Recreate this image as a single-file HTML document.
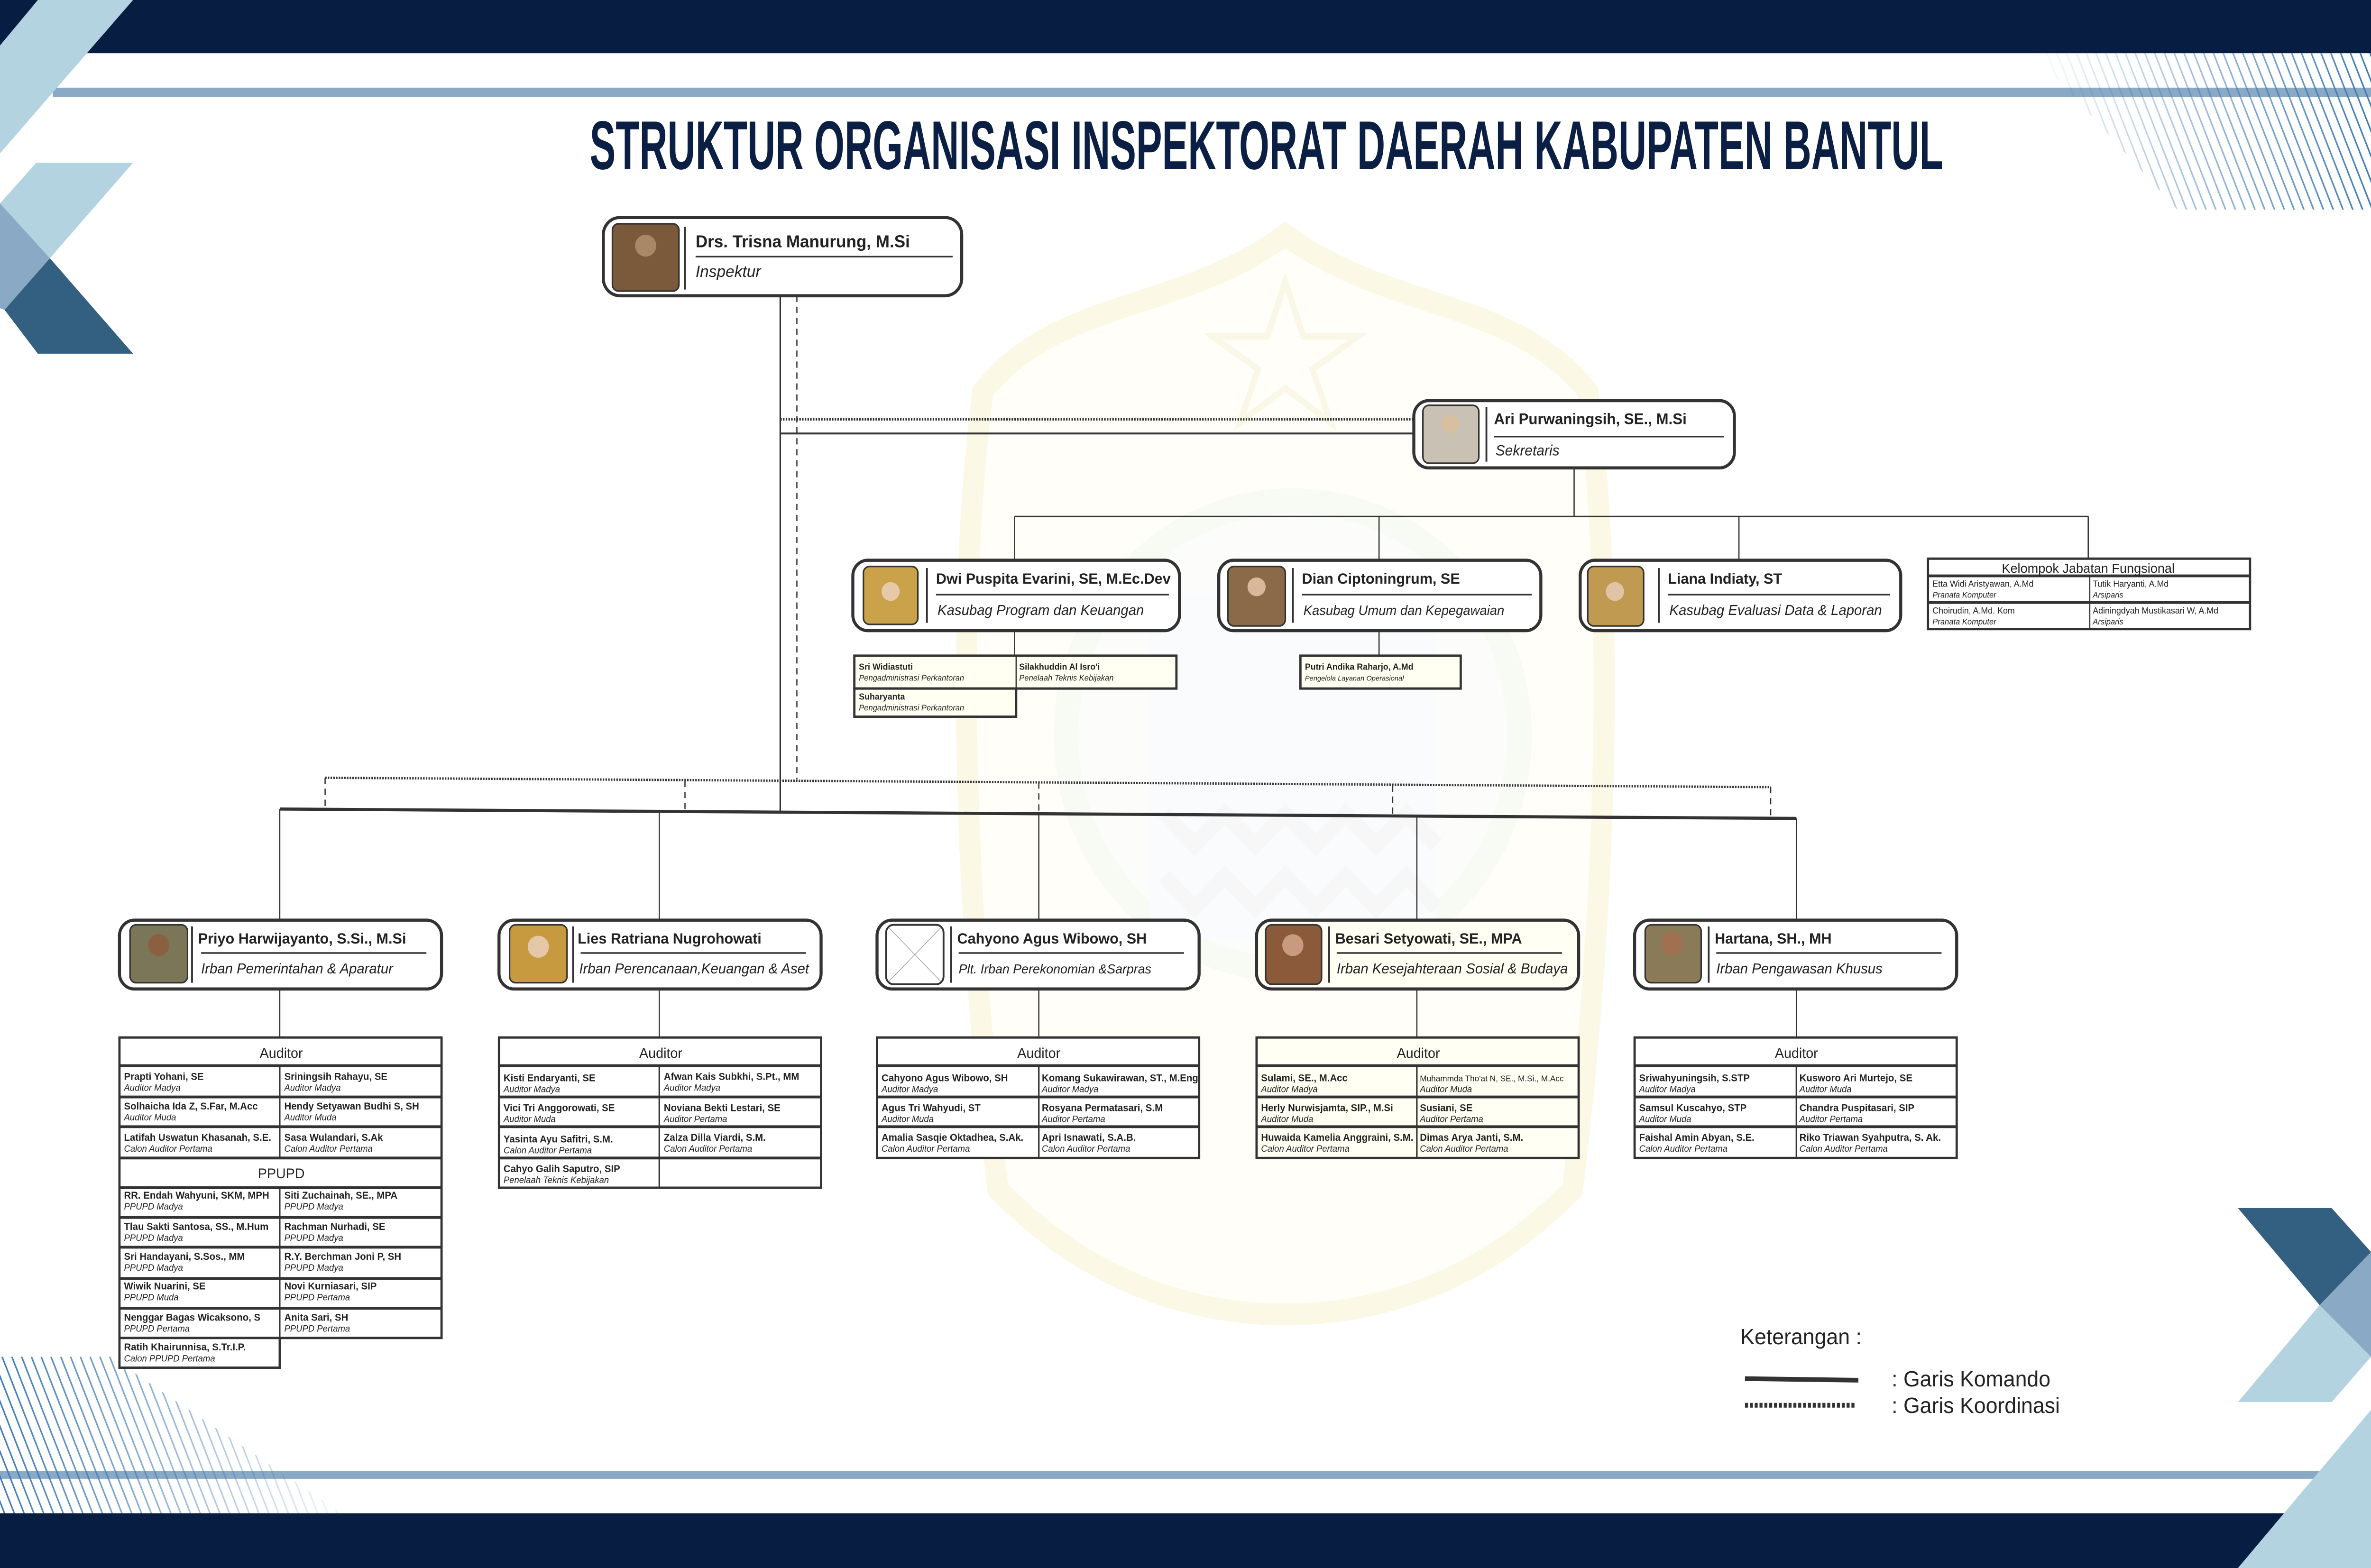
<!DOCTYPE html>
<html><head><meta charset="utf-8"><style>
html,body{margin:0;padding:0;background:#fff;overflow:hidden;width:100%;height:100%;}
svg{display:block;position:fixed;left:0;top:0;width:100vw;height:100vh;}
text{font-family:"Liberation Sans Narrow","Liberation Sans",sans-serif;fill:#222;}
.n{font-weight:bold;font-size:6.4px;}
.r{font-style:italic;font-size:5.8px;}
.h{font-size:9px;text-anchor:middle;}
.bn{font-weight:bold;font-size:9.6px;}
.bt{font-style:italic;font-size:9.2px;}
</style></head><body>
<svg viewBox="0 0 1568 1002" preserveAspectRatio="none" xmlns="http://www.w3.org/2000/svg">
<defs>
<pattern id="hp" patternUnits="userSpaceOnUse" width="6" height="10" patternTransform="rotate(-22)">
<rect x="0" y="0" width="1" height="10" fill="#3d7ab8"/></pattern>
<linearGradient id="fadeR" x1="0" x2="1" y1="0" y2="0"><stop offset="0" stop-color="#fff" stop-opacity="1"/><stop offset="1" stop-color="#fff" stop-opacity="0"/></linearGradient>
<linearGradient id="fadeL" x1="0" x2="1" y1="0" y2="0"><stop offset="0" stop-color="#fff" stop-opacity="0"/><stop offset="1" stop-color="#fff" stop-opacity="1"/></linearGradient>
<mask id="mR"><rect x="0" y="860" width="240" height="110" fill="url(#fadeR)"/></mask>
<mask id="mL"><rect x="1345" y="34" width="223" height="100" fill="url(#fadeL)"/></mask>
</defs>

<!-- watermark crest -->
<g opacity="0.4">
<path d="M850 150 C780 200 700 190 650 250 C630 400 640 600 660 760 C720 820 790 840 850 840 C910 840 980 820 1040 760 C1060 600 1070 400 1050 250 C1000 190 920 200 850 150Z" fill="#fefdf0" stroke="#f6f0c0" stroke-width="14"/>
<circle cx="855" cy="470" r="150" fill="#f7f9f5" stroke="#eef3e4" stroke-width="16"/>
<rect x="760" y="380" width="190" height="220" fill="#f2f5f8"/>
<path d="M770 520 l20 20 l20 -20 l20 20 l20 -20 l20 20 l20 -20 l20 20 l20 -20 l20 20" fill="none" stroke="#eaeaea" stroke-width="10"/>
<path d="M770 560 l20 20 l20 -20 l20 20 l20 -20 l20 20 l20 -20 l20 20 l20 -20 l20 20" fill="none" stroke="#eaeaea" stroke-width="10"/>
<polygon points="850,180 862,215 898,215 868,236 880,270 850,248 820,270 832,236 802,215 838,215" fill="none" stroke="#f3ecc0" stroke-width="4"/>
</g>

<!-- top decor -->
<rect x="0" y="0" width="1568" height="34" fill="#071e42"/>
<rect x="35" y="56" width="1533" height="6" fill="#8aa9c4"/>
<polygon points="25,0 88,0 0,98 0,29" fill="#b2d3df"/>
<polygon points="0,0 25,0 0,29" fill="#071e42"/>
<polygon points="24,104 88,104 33,165 0,130" fill="#b2d3df"/>
<polygon points="0,130 33,165 3,198 0,197" fill="#8aa9c4"/>
<polygon points="33,165 88,226 25,226 3,198" fill="#335f80"/>
<g mask="url(#mL)"><polygon points="1345,34 1568,34 1568,134 1440,134" fill="url(#hp)"/></g>

<!-- bottom decor -->
<rect x="0" y="940" width="1568" height="5" fill="#8aa9c4"/>
<rect x="0" y="967" width="1568" height="35" fill="#071e42"/>
<g mask="url(#mR)"><polygon points="0,867 73,867 226,967 0,967" fill="url(#hp)"/></g>
<polygon points="1480,772 1542,772 1568,800 1568,867 1534,834" fill="#335f80"/>
<polygon points="1534,834 1568,800 1568,867" fill="#8aa9c4"/>
<polygon points="1534,834 1568,867 1542,896 1480,896" fill="#b2d3df"/>
<polygon points="1568,901 1568,1002 1480,1002" fill="#b2d3df"/>

<!-- title -->
<text x="390" y="108" font-size="44" font-weight="bold" textLength="895" lengthAdjust="spacingAndGlyphs" style="fill:#0b1f44">STRUKTUR ORGANISASI INSPEKTORAT DAERAH KABUPATEN BANTUL</text>

<!-- connectors -->
<g stroke="#333" fill="none">
<line x1="516" y1="189" x2="516" y2="519" stroke-width="1"/>
<line x1="527" y1="189" x2="527" y2="498" stroke-width="0.8" stroke-dasharray="4,3"/>
<line x1="516" y1="268" x2="935" y2="268" stroke-width="1.5" stroke-dasharray="1,0.8"/>
<line x1="516" y1="277" x2="935" y2="277" stroke-width="1.2"/>
<line x1="1041" y1="299" x2="1041" y2="330" stroke-width="0.8"/>
<line x1="671" y1="330" x2="1381" y2="330" stroke-width="0.8"/>
<line x1="671" y1="330" x2="671" y2="358" stroke-width="0.8"/>
<line x1="912" y1="330" x2="912" y2="358" stroke-width="0.8"/>
<line x1="1150" y1="330" x2="1150" y2="358" stroke-width="0.8"/>
<line x1="1381" y1="330" x2="1381" y2="357" stroke-width="0.8"/>
<line x1="671" y1="403" x2="671" y2="419" stroke-width="0.8"/>
<line x1="912" y1="403" x2="912" y2="419" stroke-width="0.8"/>
<line x1="215" y1="497" x2="1171" y2="503" stroke-width="1.5" stroke-dasharray="1,0.8"/>
<g stroke-width="0.8" stroke-dasharray="4,3">
<line x1="215" y1="497" x2="215" y2="517"/><line x1="453" y1="499" x2="453" y2="519"/>
<line x1="687" y1="500" x2="687" y2="520"/><line x1="921" y1="502" x2="921" y2="522"/>
<line x1="1171" y1="503" x2="1171" y2="523"/></g>
<line x1="185" y1="517" x2="1188" y2="523" stroke-width="2"/>
<g stroke-width="0.8">
<line x1="185" y1="517" x2="185" y2="588"/><line x1="436" y1="519" x2="436" y2="588"/>
<line x1="687" y1="520" x2="687" y2="588"/><line x1="937" y1="522" x2="937" y2="588"/>
<line x1="1188" y1="523" x2="1188" y2="588"/>
<line x1="185" y1="632" x2="185" y2="663"/><line x1="436" y1="632" x2="436" y2="663"/>
<line x1="687" y1="632" x2="687" y2="663"/><line x1="937" y1="632" x2="937" y2="663"/>
<line x1="1188" y1="632" x2="1188" y2="663"/></g>
</g>

<!-- Inspektur -->
<rect x="399" y="139" width="237" height="50" rx="11" fill="#fff" stroke="#333" stroke-width="2"/>
<rect x="405" y="143" width="44" height="43" rx="4" fill="#7a5a3a" stroke="#333" stroke-width="1"/>
<circle cx="427" cy="157" r="7" fill="#a98868"/>
<line x1="453" y1="145" x2="453" y2="185" stroke="#333" stroke-width="1.2"/>
<text x="460" y="158" style="font-weight:bold;font-size:11px">Drs. Trisna Manurung, M.Si</text>
<line x1="460" y1="164" x2="630" y2="164" stroke="#333" stroke-width="1"/>
<text x="460" y="177" style="font-style:italic;font-size:10.5px">Inspektur</text>

<!-- Sekretaris -->
<rect x="935" y="256" width="212" height="43" rx="10" fill="#fff" stroke="#333" stroke-width="2"/>
<rect x="941" y="259" width="37" height="37" rx="4" fill="#c9c2b4" stroke="#333" stroke-width="1"/>
<circle cx="959" cy="271" r="6" fill="#d6c0a0"/>
<line x1="983" y1="260" x2="983" y2="295" stroke="#333" stroke-width="1.2"/>
<text x="988" y="271" style="font-weight:bold;font-size:9.8px">Ari Purwaningsih, SE., M.Si</text>
<line x1="988" y1="279" x2="1140" y2="279" stroke="#333" stroke-width="1"/>
<text x="989" y="291" style="font-style:italic;font-size:9.4px">Sekretaris</text>

<!-- Kasubag -->
<g>
<rect x="564" y="358" width="216" height="45" rx="10" fill="#fff" stroke="#333" stroke-width="2"/>
<rect x="571" y="362" width="36" height="37" rx="4" fill="#c9a24a" stroke="#333" stroke-width="1"/>
<circle cx="589" cy="378" r="6" fill="#e6c9a8"/>
<line x1="613" y1="363" x2="613" y2="398" stroke="#333" stroke-width="1.2"/>
<text x="619" y="373" class="bn">Dwi Puspita Evarini, SE, M.Ec.Dev</text>
<line x1="619" y1="380" x2="773" y2="380" stroke="#333" stroke-width="1"/>
<text x="620" y="393" class="bt">Kasubag Program dan Keuangan</text>

<rect x="806" y="358" width="213" height="45" rx="10" fill="#fff" stroke="#333" stroke-width="2"/>
<rect x="812" y="362" width="38" height="38" rx="4" fill="#8a6a48" stroke="#333" stroke-width="1"/>
<circle cx="831" cy="375" r="6" fill="#d8b89a"/>
<line x1="855" y1="363" x2="855" y2="398" stroke="#333" stroke-width="1.2"/>
<text x="861" y="373" class="bn">Dian Ciptoningrum, SE</text>
<line x1="861" y1="380" x2="1013" y2="380" stroke="#333" stroke-width="1"/>
<text x="862" y="393" class="bt" style="font-size:8.6px">Kasubag Umum dan Kepegawaian</text>

<rect x="1045" y="358" width="212" height="45" rx="10" fill="#fff" stroke="#333" stroke-width="2"/>
<rect x="1050" y="362" width="37" height="38" rx="4" fill="#c19a52" stroke="#333" stroke-width="1"/>
<circle cx="1068" cy="378" r="6" fill="#e0c4a6"/>
<line x1="1097" y1="363" x2="1097" y2="398" stroke="#333" stroke-width="1.2"/>
<text x="1103" y="373" class="bn">Liana Indiaty, ST</text>
<line x1="1103" y1="380" x2="1250" y2="380" stroke="#333" stroke-width="1"/>
<text x="1104" y="393" class="bt">Kasubag Evaluasi Data &amp; Laporan</text>
</g>

<!-- Kelompok Jabatan Fungsional -->
<g>
<rect x="1275" y="357" width="213" height="45" fill="#fff" stroke="#333" stroke-width="1.5"/>
<line x1="1275" y1="368" x2="1488" y2="368" stroke="#333" stroke-width="1.8"/>
<line x1="1275" y1="385" x2="1488" y2="385" stroke="#333" stroke-width="1.8"/>
<line x1="1382" y1="368" x2="1382" y2="402" stroke="#333" stroke-width="0.8"/>
<text x="1381" y="366" style="font-size:8.5px;text-anchor:middle">Kelompok Jabatan Fungsional</text>
<text x="1278" y="375" style="font-size:5.6px">Etta Widi Aristyawan, A.Md</text>
<text x="1278" y="382" style="font-size:5.2px;font-style:italic">Pranata Komputer</text>
<text x="1384" y="375" style="font-size:5.6px">Tutik Haryanti, A.Md</text>
<text x="1384" y="382" style="font-size:5.2px;font-style:italic">Arsiparis</text>
<text x="1278" y="392" style="font-size:5.6px">Choirudin, A.Md. Kom</text>
<text x="1278" y="399" style="font-size:5.2px;font-style:italic">Pranata Komputer</text>
<text x="1384" y="392" style="font-size:5.6px">Adiningdyah Mustikasari W, A.Md</text>
<text x="1384" y="399" style="font-size:5.2px;font-style:italic">Arsiparis</text>
</g>

<!-- sub staff tables -->
<g>
<rect x="565" y="419" width="213" height="21" fill="#fffff2" stroke="#333" stroke-width="1.5"/>
<rect x="565" y="440" width="107" height="18" fill="#fffff2" stroke="#333" stroke-width="1.5"/>
<line x1="672" y1="419" x2="672" y2="440" stroke="#333" stroke-width="0.8"/>
<text x="568" y="428" style="font-size:5.6px;font-weight:bold">Sri Widiastuti</text>
<text x="568" y="435" style="font-size:5.2px;font-style:italic">Pengadministrasi Perkantoran</text>
<text x="674" y="428" style="font-size:5.6px;font-weight:bold">Silakhuddin Al Isro'i</text>
<text x="674" y="435" style="font-size:5.2px;font-style:italic">Penelaah Teknis Kebijakan</text>
<text x="568" y="447" style="font-size:5.6px;font-weight:bold">Suharyanta</text>
<text x="568" y="454" style="font-size:5.2px;font-style:italic">Pengadministrasi Perkantoran</text>
<rect x="860" y="419" width="106" height="21" fill="#fffff2" stroke="#333" stroke-width="1.5"/>
<text x="863" y="428" style="font-size:5.6px;font-weight:bold">Putri Andika Raharjo, A.Md</text>
<text x="863" y="435" style="font-size:4.6px;font-style:italic">Pengelola Layanan Operasional</text>
</g>

<!-- Irban boxes -->
<g>
<rect x="79" y="588" width="213" height="44" rx="10" fill="#fff" stroke="#333" stroke-width="2"/>
<rect x="86" y="591" width="38" height="37" rx="4" fill="#7c7658" stroke="#333" stroke-width="1"/>
<circle cx="105" cy="604" r="7" fill="#8a6040"/>
<line x1="127" y1="592" x2="127" y2="628" stroke="#333" stroke-width="1.2"/>
<text x="131" y="603" class="bn">Priyo Harwijayanto, S.Si., M.Si</text>
<line x1="133" y1="609" x2="282" y2="609" stroke="#333" stroke-width="1"/>
<text x="133" y="622" class="bt">Irban Pemerintahan &amp; Aparatur</text>

<rect x="330" y="588" width="213" height="44" rx="10" fill="#fff" stroke="#333" stroke-width="2"/>
<rect x="337" y="591" width="38" height="37" rx="4" fill="#c79a40" stroke="#333" stroke-width="1"/>
<circle cx="356" cy="605" r="7" fill="#e4c8a8"/>
<line x1="379" y1="592" x2="379" y2="628" stroke="#333" stroke-width="1.2"/>
<text x="382" y="603" class="bn">Lies Ratriana Nugrohowati</text>
<line x1="384" y1="609" x2="533" y2="609" stroke="#333" stroke-width="1"/>
<text x="383" y="622" class="bt">Irban Perencanaan,Keuangan &amp; Aset</text>

<rect x="580" y="588" width="213" height="44" rx="10" fill="#fff" stroke="#333" stroke-width="2"/>
<rect x="586" y="591" width="38" height="38" rx="5" fill="#fff" stroke="#333" stroke-width="1.2"/>
<line x1="588" y1="593" x2="622" y2="627" stroke="#999" stroke-width="0.4"/>
<line x1="622" y1="593" x2="588" y2="627" stroke="#999" stroke-width="0.4"/>
<line x1="629" y1="592" x2="629" y2="628" stroke="#333" stroke-width="1.2"/>
<text x="633" y="603" class="bn">Cahyono Agus Wibowo, SH</text>
<line x1="634" y1="609" x2="783" y2="609" stroke="#333" stroke-width="1"/>
<text x="634" y="622" class="bt" style="font-size:8.4px">Plt. Irban Perekonomian &amp;Sarpras</text>

<rect x="831" y="588" width="213" height="44" rx="10" fill="#fffff4" stroke="#333" stroke-width="2"/>
<rect x="837" y="591" width="37" height="38" rx="4" fill="#8a5a3a" stroke="#333" stroke-width="1"/>
<circle cx="855" cy="604" r="7" fill="#c89a80"/>
<line x1="879" y1="592" x2="879" y2="628" stroke="#333" stroke-width="1.2"/>
<text x="883" y="603" class="bn">Besari Setyowati, SE., MPA</text>
<line x1="884" y1="609" x2="1033" y2="609" stroke="#333" stroke-width="1"/>
<text x="884" y="622" class="bt">Irban Kesejahteraan Sosial &amp; Budaya</text>

<rect x="1081" y="588" width="213" height="44" rx="10" fill="#fff" stroke="#333" stroke-width="2"/>
<rect x="1088" y="591" width="37" height="37" rx="4" fill="#8a7a58" stroke="#333" stroke-width="1"/>
<circle cx="1106" cy="603" r="7" fill="#a07050"/>
<line x1="1130" y1="592" x2="1130" y2="628" stroke="#333" stroke-width="1.2"/>
<text x="1134" y="603" class="bn">Hartana, SH., MH</text>
<line x1="1135" y1="609" x2="1284" y2="609" stroke="#333" stroke-width="1"/>
<text x="1135" y="622" class="bt">Irban Pengawasan Khusus</text>
</g>

<!-- Table 1 -->
<g>
<rect x="79" y="663" width="213" height="192" fill="#fff" stroke="#333" stroke-width="1.5"/>
<rect x="79" y="855" width="106" height="19" fill="#fff" stroke="#333" stroke-width="1.5"/>
<g stroke="#333" stroke-width="1.8">
<line x1="79" y1="681" x2="292" y2="681"/><line x1="79" y1="701" x2="292" y2="701"/>
<line x1="79" y1="720" x2="292" y2="720"/><line x1="79" y1="740" x2="292" y2="740"/>
<line x1="79" y1="759" x2="292" y2="759"/><line x1="79" y1="778" x2="292" y2="778"/>
<line x1="79" y1="797" x2="292" y2="797"/><line x1="79" y1="817" x2="292" y2="817"/>
<line x1="79" y1="836" x2="292" y2="836"/></g>
<g stroke="#333" stroke-width="1"><line x1="185" y1="681" x2="185" y2="740"/><line x1="185" y1="759" x2="185" y2="874"/></g>
<text x="186" y="676" class="h">Auditor</text>
<text x="186" y="753" class="h">PPUPD</text>
<text x="82" y="690" class="n">Prapti Yohani, SE</text><text x="82" y="697" class="r">Auditor Madya</text>
<text x="188" y="690" class="n">Sriningsih Rahayu, SE</text><text x="188" y="697" class="r">Auditor Madya</text>
<text x="82" y="709" class="n">Solhaicha Ida Z, S.Far, M.Acc</text><text x="82" y="716" class="r">Auditor Muda</text>
<text x="188" y="709" class="n">Hendy Setyawan Budhi S, SH</text><text x="188" y="716" class="r">Auditor Muda</text>
<text x="82" y="729" class="n">Latifah Uswatun Khasanah, S.E.</text><text x="82" y="736" class="r">Calon Auditor Pertama</text>
<text x="188" y="729" class="n">Sasa Wulandari, S.Ak</text><text x="188" y="736" class="r">Calon Auditor Pertama</text>
<text x="82" y="766" class="n">RR. Endah Wahyuni, SKM, MPH</text><text x="82" y="773" class="r">PPUPD Madya</text>
<text x="188" y="766" class="n">Siti Zuchainah, SE., MPA</text><text x="188" y="773" class="r">PPUPD Madya</text>
<text x="82" y="786" class="n">Tlau Sakti Santosa, SS., M.Hum</text><text x="82" y="793" class="r">PPUPD Madya</text>
<text x="188" y="786" class="n">Rachman Nurhadi, SE</text><text x="188" y="793" class="r">PPUPD Madya</text>
<text x="82" y="805" class="n">Sri Handayani, S.Sos., MM</text><text x="82" y="812" class="r">PPUPD Madya</text>
<text x="188" y="805" class="n">R.Y. Berchman Joni P, SH</text><text x="188" y="812" class="r">PPUPD Madya</text>
<text x="82" y="824" class="n">Wiwik Nuarini, SE</text><text x="82" y="831" class="r">PPUPD Muda</text>
<text x="188" y="824" class="n">Novi Kurniasari, SIP</text><text x="188" y="831" class="r">PPUPD Pertama</text>
<text x="82" y="844" class="n">Nenggar Bagas Wicaksono, S</text><text x="82" y="851" class="r">PPUPD Pertama</text>
<text x="188" y="844" class="n">Anita Sari, SH</text><text x="188" y="851" class="r">PPUPD Pertama</text>
<text x="82" y="863" class="n">Ratih Khairunnisa, S.Tr.I.P.</text><text x="82" y="870" class="r">Calon PPUPD Pertama</text>
</g>

<!-- Table 2 -->
<g>
<rect x="330" y="663" width="213" height="96" fill="#fff" stroke="#333" stroke-width="1.5"/>
<g stroke="#333" stroke-width="1.8">
<line x1="330" y1="681" x2="543" y2="681"/><line x1="330" y1="701" x2="543" y2="701"/>
<line x1="330" y1="720" x2="543" y2="720"/><line x1="330" y1="740" x2="543" y2="740"/></g>
<line x1="436" y1="681" x2="436" y2="759" stroke="#333" stroke-width="1"/>
<text x="437" y="676" class="h">Auditor</text>
<text x="333" y="691" class="n">Kisti Endaryanti, SE</text><text x="333" y="698" class="r">Auditor Madya</text>
<text x="439" y="690" class="n">Afwan Kais Subkhi, S.Pt., MM</text><text x="439" y="697" class="r">Auditor Madya</text>
<text x="333" y="710" class="n">Vici Tri Anggorowati, SE</text><text x="333" y="717" class="r">Auditor Muda</text>
<text x="439" y="710" class="n">Noviana Bekti Lestari, SE</text><text x="439" y="717" class="r">Auditor Pertama</text>
<text x="333" y="730" class="n">Yasinta Ayu Safitri, S.M.</text><text x="333" y="737" class="r">Calon Auditor Pertama</text>
<text x="439" y="729" class="n">Zalza Dilla Viardi, S.M.</text><text x="439" y="736" class="r">Calon Auditor Pertama</text>
<text x="333" y="749" class="n">Cahyo Galih Saputro, SIP</text><text x="333" y="756" class="r">Penelaah Teknis Kebijakan</text>
</g>

<!-- Table 3 -->
<g>
<rect x="580" y="663" width="213" height="77" fill="#fff" stroke="#333" stroke-width="1.5"/>
<g stroke="#333" stroke-width="1.8">
<line x1="580" y1="681" x2="793" y2="681"/><line x1="580" y1="701" x2="793" y2="701"/>
<line x1="580" y1="720" x2="793" y2="720"/></g>
<line x1="687" y1="681" x2="687" y2="740" stroke="#333" stroke-width="1"/>
<text x="687" y="676" class="h">Auditor</text>
<text x="583" y="691" class="n">Cahyono Agus Wibowo, SH</text><text x="583" y="698" class="r">Auditor Madya</text>
<text x="689" y="691" class="n">Komang Sukawirawan, ST., M.Eng</text><text x="689" y="698" class="r">Auditor Madya</text>
<text x="583" y="710" class="n">Agus Tri Wahyudi, ST</text><text x="583" y="717" class="r">Auditor Muda</text>
<text x="689" y="710" class="n">Rosyana Permatasari, S.M</text><text x="689" y="717" class="r">Auditor Pertama</text>
<text x="583" y="729" class="n">Amalia Sasqie Oktadhea, S.Ak.</text><text x="583" y="736" class="r">Calon Auditor Pertama</text>
<text x="689" y="729" class="n">Apri Isnawati, S.A.B.</text><text x="689" y="736" class="r">Calon Auditor Pertama</text>
</g>

<!-- Table 4 -->
<g>
<rect x="831" y="663" width="213" height="77" fill="#fffff4" stroke="#333" stroke-width="1.5"/>
<g stroke="#333" stroke-width="1.8">
<line x1="831" y1="681" x2="1044" y2="681"/><line x1="831" y1="701" x2="1044" y2="701"/>
<line x1="831" y1="720" x2="1044" y2="720"/></g>
<line x1="937" y1="681" x2="937" y2="740" stroke="#333" stroke-width="1"/>
<text x="938" y="676" class="h">Auditor</text>
<text x="834" y="691" class="n">Sulami, SE., M.Acc</text><text x="834" y="698" class="r">Auditor Madya</text>
<text x="939" y="691" class="n" style="font-weight:normal;font-size:5.4px">Muhammda Tho'at N, SE., M.Si., M.Acc</text><text x="939" y="698" class="r">Auditor Muda</text>
<text x="834" y="710" class="n">Herly Nurwisjamta, SIP., M.Si</text><text x="834" y="717" class="r">Auditor Muda</text>
<text x="939" y="710" class="n">Susiani, SE</text><text x="939" y="717" class="r">Auditor Pertama</text>
<text x="834" y="729" class="n">Huwaida Kamelia Anggraini, S.M.</text><text x="834" y="736" class="r">Calon Auditor Pertama</text>
<text x="939" y="729" class="n">Dimas Arya Janti, S.M.</text><text x="939" y="736" class="r">Calon Auditor Pertama</text>
</g>

<!-- Table 5 -->
<g>
<rect x="1081" y="663" width="213" height="77" fill="#fff" stroke="#333" stroke-width="1.5"/>
<g stroke="#333" stroke-width="1.8">
<line x1="1081" y1="681" x2="1294" y2="681"/><line x1="1081" y1="701" x2="1294" y2="701"/>
<line x1="1081" y1="720" x2="1294" y2="720"/></g>
<line x1="1188" y1="681" x2="1188" y2="740" stroke="#333" stroke-width="1"/>
<text x="1188" y="676" class="h">Auditor</text>
<text x="1084" y="691" class="n">Sriwahyuningsih, S.STP</text><text x="1084" y="698" class="r">Auditor Madya</text>
<text x="1190" y="691" class="n">Kusworo Ari Murtejo, SE</text><text x="1190" y="698" class="r">Auditor Muda</text>
<text x="1084" y="710" class="n">Samsul Kuscahyo, STP</text><text x="1084" y="717" class="r">Auditor Muda</text>
<text x="1190" y="710" class="n">Chandra Puspitasari, SIP</text><text x="1190" y="717" class="r">Auditor Pertama</text>
<text x="1084" y="729" class="n">Faishal Amin Abyan, S.E.</text><text x="1084" y="736" class="r">Calon Auditor Pertama</text>
<text x="1190" y="729" class="n">Riko Triawan Syahputra, S. Ak.</text><text x="1190" y="736" class="r">Calon Auditor Pertama</text>
</g>

<!-- Legend -->
<text x="1151" y="859" style="font-size:14px">Keterangan :</text>
<line x1="1154" y1="881" x2="1229" y2="882" stroke="#333" stroke-width="3"/>
<line x1="1154" y1="898" x2="1227" y2="898" stroke="#333" stroke-width="3" stroke-dasharray="2,1.2"/>
<text x="1251" y="886" style="font-size:14px">: Garis Komando</text>
<text x="1251" y="903" style="font-size:14px">: Garis Koordinasi</text>
</svg>
</body></html>
